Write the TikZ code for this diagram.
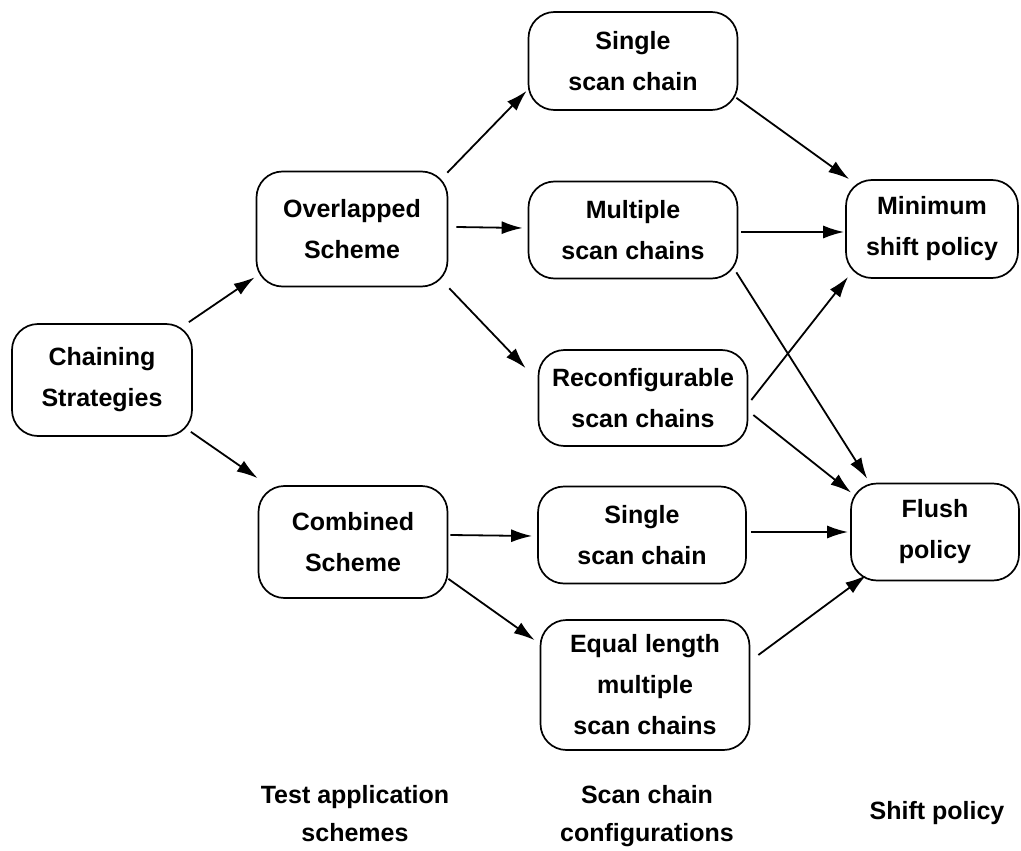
\documentclass[tikz,border=0pt]{standalone}
\usepackage{fontspec}
\setmainfont{Liberation Sans}
\usetikzlibrary{calc,arrows.meta}
\begin{document}
\begin{tikzpicture}[x=1pt,y=-1pt,
  box/.style={draw,line width=1.7pt,rounded corners=26pt,align=center,inner sep=0pt,
    font=\fontsize{25}{41}\selectfont\bfseries},
  lbl/.style={align=center,font=\fontsize{25}{38}\selectfont\bfseries},
  arr/.style={line width=1.8pt,-{Latex[length=21pt,width=13pt]}}]
\useasboundingbox (0,0) rectangle (1021,851);
\node[box,minimum width=180pt,minimum height=112pt] (cs) at (102,380) {Chaining\\Strategies};
\node[box,minimum width=191pt,minimum height=115pt] (ov) at (352,229) {Overlapped\\Scheme};
\node[box,minimum width=189pt,minimum height=112pt] (co) at (353,542) {Combined\\Scheme};
\node[box,minimum width=209pt,minimum height=98pt] (s1) at (633,61) {Single\\scan chain};
\node[box,minimum width=209pt,minimum height=97pt] (mu) at (633,230) {Multiple\\scan chains};
\node[box,minimum width=209pt,minimum height=96pt] (re) at (643,398) {Reconfigurable\\scan chains};
\node[box,minimum width=208pt,minimum height=97pt] (s2) at (642,535) {Single\\scan chain};
\node[box,minimum width=209pt,minimum height=130pt] (eq) at (645,685) {Equal length\\multiple\\scan chains};
\node[box,minimum width=172pt,minimum height=98pt] (mi) at (932,229) {Minimum\\shift policy};
\node[box,minimum width=168pt,minimum height=97pt] (fl) at (935,532) {Flush\\policy};
\node[lbl] (l1) at (355,814) {Test application\\schemes};
\node[lbl] (l2) at (647,816) {Scan chain\\configurations};
\node[lbl] (l3) at (937,813) {Shift policy};
\draw[arr] ($(cs.north east)+(-4,-1)$) -- ($(ov.south west)+(-1,-10)$);
\draw[arr] ($(cs.south east)+(-2,-5)$) -- ($(co.north west)+(0,-7)$);
\draw[arr] ($(ov.north east)+(-1,2)$) -- ($(s1.south west)+(-1,-20)$);
\draw[arr] ($(ov.east)+(8,-2)$) -- ($(mu.west)+(-5,-2)$);
\draw[arr] ($(ov.south east)+(1,1)$) -- ($(re.north west)+(-12,19)$);
\draw[arr] ($(co.east)+(2,-7)$) -- ($(s2.west)+(-5,1)$);
\draw[arr] ($(co.south east)+(0,-20)$) -- ($(eq.north west)+(-5,21)$);
\draw[arr] ($(s1.south east)+(-2,-13)$) -- ($(mi.north west)+(4,0)$);
\draw[arr] ($(mu.east)+(3,2)$) -- ($(mi.west)+(-1,3)$);
\draw[arr] ($(mu.south east)+(-2,-7)$) -- ($(fl.north west)+(17,-4)$);
\draw[arr] ($(re.east)+(3,2)$) -- ($(mi.south west)+(3,-2)$);
\draw[arr] ($(re.east)+(5,17)$) -- ($(fl.north west)+(1,10)$);
\draw[arr] ($(s2.east)+(4,-3)$) -- ($(fl.west)+(-2,0)$);
\draw[arr] ($(eq.east)+(8,-30)$) -- ($(fl.south west)+(16,-6)$);
\end{tikzpicture}
\end{document}
